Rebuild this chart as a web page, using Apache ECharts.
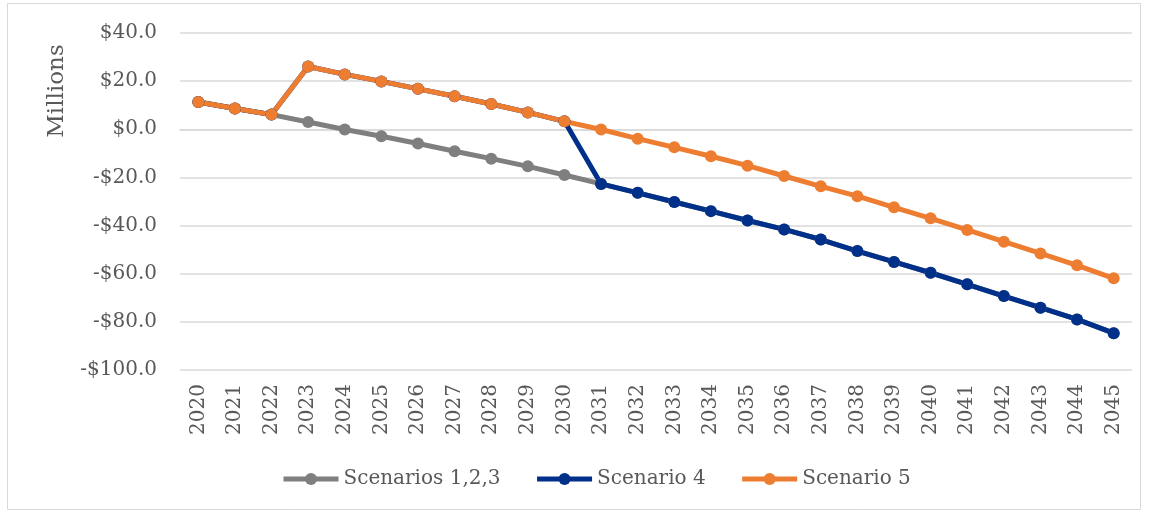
<!DOCTYPE html>
<html>
<head>
<meta charset="utf-8">
<script src="https://cdn.jsdelivr.net/npm/echarts@6/dist/echarts.min.js"></script>
<style>
html,body{margin:0;padding:0;background:#fff;}
#main{width:1149px;height:514px;}
</style>
</head>
<body>
<div id="main"></div>
<script>
var years = ['2020','2021','2022','2023','2024','2025','2026','2027','2028','2029','2030','2031','2032','2033','2034','2035','2036','2037','2038','2039','2040','2041','2042','2043','2044','2045'];
var seriesNames = ['Scenarios 1,2,3', 'Scenario 4', 'Scenario 5'];
var scenarios123 = [11.3, 8.6, 6.1, 3.0, -0.1, -2.9, -5.9, -9.1, -12.2, -15.4, -19.0, -22.7, -26.4, -30.2, -34.0, -37.9, -41.6, -45.8, -50.6, -55.1, -59.6, -64.4, -69.3, -74.1, -79.0, -84.7];
var scenario4 = [11.3, 8.6, 6.1, 26.1, 22.8, 19.9, 16.8, 13.7, 10.5, 7.0, 3.3, -22.7, -26.4, -30.2, -34.0, -37.9, -41.6, -45.8, -50.6, -55.1, -59.6, -64.4, -69.3, -74.1, -79.0, -84.7];
var scenario5 = [11.3, 8.6, 6.1, 26.1, 22.8, 19.9, 16.8, 13.7, 10.5, 7.0, 3.3, -0.1, -3.9, -7.5, -11.2, -15.1, -19.4, -23.7, -27.8, -32.4, -37.0, -41.8, -46.7, -51.6, -56.5, -61.9];
var yTicks = [-100, -80, -60, -40, -20, 0, 20, 40];
var yAxisTitle = 'Millions';

var FONT = 'DejaVu Serif';
var TXT = '#595959';
var colors = ['#7f7f7f', '#00308a', '#ed7d31'];

function fmt(v){
  var s = '$' + Math.abs(v).toFixed(1);
  return v < 0 ? '-' + s : s;
}

function mk(name, data, color){
  return {
    name: name, type: 'line', data: data,
    symbol: 'circle', symbolSize: 12,
    lineStyle: {width: 5, color: color},
    itemStyle: {color: color},
    emphasis: {disabled: true}
  };
}

var chart = echarts.init(document.getElementById('main'), null, {renderer: 'canvas'});
chart.setOption({
  animation: false,
  backgroundColor: '#fff',
  grid: {left: 180, right: 17, top: 33, bottom: 144, containLabel: false},
  legend: {
    data: seriesNames,
    left: 276, top: 464,
    itemWidth: 55, itemHeight: 15, itemGap: 34,
    lineStyle: {width: 5},
    textStyle: {fontFamily: FONT, fontSize: 20, color: TXT},
    selectedMode: false
  },
  xAxis: {
    type: 'category', data: years, boundaryGap: true,
    axisLine: {show: true, lineStyle: {color: '#d9d9d9', width: 1.5}},
    axisTick: {show: false},
    axisLabel: {rotate: 90, margin: 14, fontFamily: FONT, fontSize: 20, color: TXT, interval: 0}
  },
  yAxis: {
    type: 'value', min: yTicks[0], max: yTicks[yTicks.length - 1], interval: 20,
    axisLine: {show: false}, axisTick: {show: false},
    splitLine: {lineStyle: {color: '#d9d9d9', width: 1.5}},
    axisLabel: {margin: 23, fontFamily: FONT, fontSize: 20, color: TXT, formatter: fmt}
  },
  graphic: [
    {type: 'rect', shape: {x: 7.5, y: 3.5, width: 1133, height: 506}, style: {fill: 'none', stroke: '#d9d9d9', lineWidth: 1}, silent: true},
    {type: 'text', x: 57, y: 91, rotation: Math.PI / 2,
     style: {text: yAxisTitle, fontFamily: FONT, fontSize: 23, fill: TXT, align: 'center', verticalAlign: 'middle'}}
  ],
  series: [
    mk(seriesNames[0], scenarios123, colors[0]),
    mk(seriesNames[1], scenario4, colors[1]),
    mk(seriesNames[2], scenario5, colors[2])
  ]
});
</script>
</body>
</html>
